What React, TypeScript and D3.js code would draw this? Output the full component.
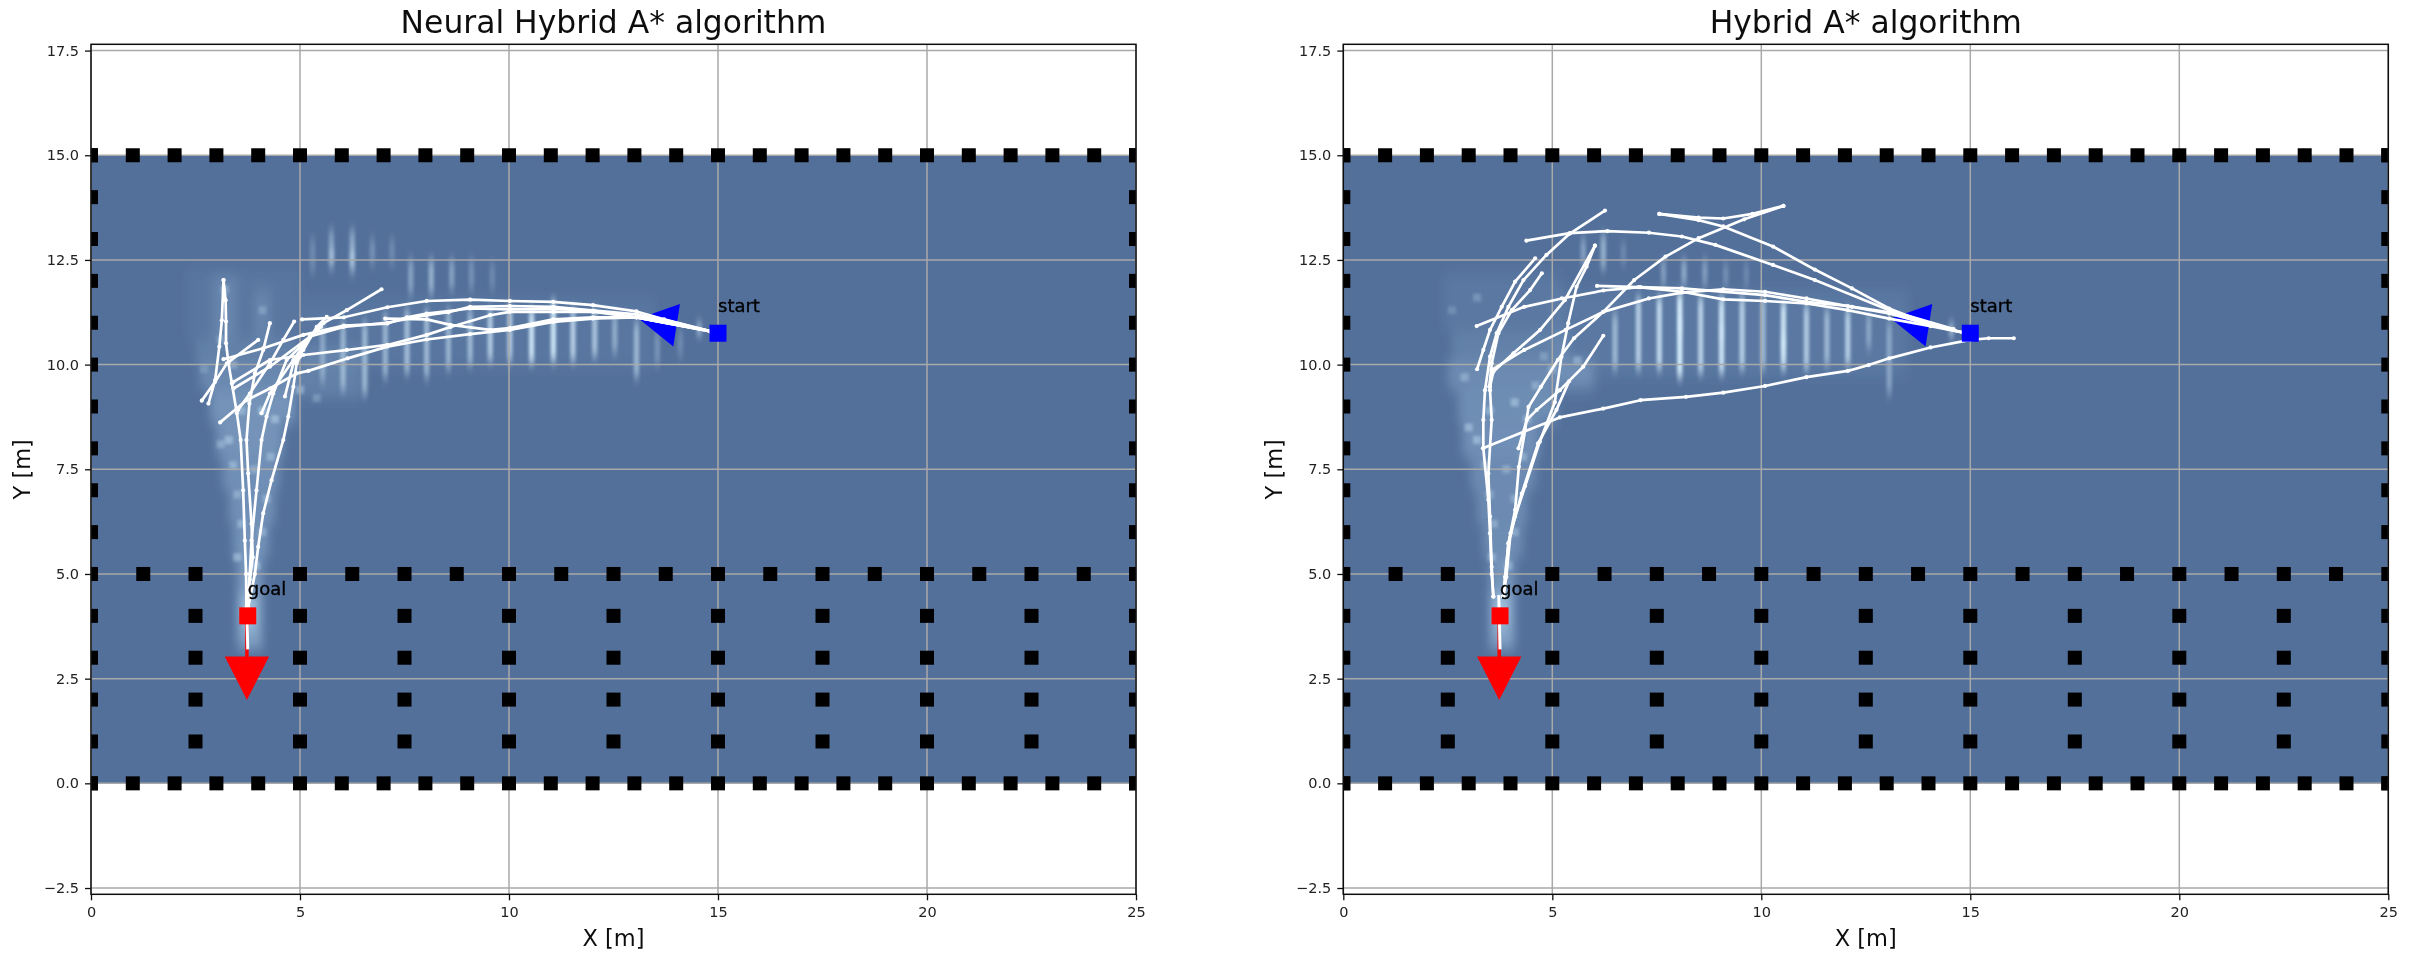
import React, { useEffect, useRef } from "react";
import * as d3 from "d3";

const titles = ["Neural Hybrid A* algorithm", "Hybrid A* algorithm"];
const xTicks = [0, 5, 10, 15, 20, 25];
const yTicks = [-2.5, 0, 2.5, 5, 7.5, 10, 12.5, 15, 17.5];

// obstacles
const borderX = d3.range(0, 26);
const borderY = d3.range(0, 16);
const innerX = [2.5, 5, 7.5, 10, 12.5, 15, 17.5, 20, 22.5];
const innerY = [1, 2, 3, 4];
const midRowX = [1.25, 2.5, 5, 6.25, 7.5, 8.75, 10, 11.25, 12.5, 13.75, 15, 16.25, 17.5, 18.75, 20, 21.25, 22.5, 23.75];

const startPose = { x: 15, y: 10.75, label: "start" };
const goalPose = { x: 3.75, y: 4, label: "goal" };
const startArrow = [[14.09, 11.45], [13.93, 10.43], [13.1, 11.1]];
const goalArrow = [[3.2, 3.03], [4.26, 3.03], [3.73, 1.99]];
const goalStem = [[3.73, 4], [3.73, 3]];
const whiteStem = [[3.72, 4.5], [3.75, 3.2]];

type Blob = number[];
// [x0, x1, y0, y1, strength]
const leftBlobs: Blob[] = [
  [3.5, 4.1, 3.2, 4.6, 0.42], [3.6, 3.95, 3.7, 4.5, 0.5], [3.5, 4.1, 4.6, 5.4, 0.35],
  [3.4, 4.25, 5.4, 6.2, 0.3], [3.3, 4.4, 6.2, 7, 0.28], [3.15, 4.5, 7, 7.8, 0.28],
  [3.0, 4.6, 7.8, 8.6, 0.3], [2.85, 4.9, 8.6, 9.4, 0.3], [2.6, 5.0, 9.4, 10, 0.22],
  [2.5, 4.9, 10, 10.6, 0.15], [2.9, 3.5, 10.6, 12.1, 0.14], [3.9, 4.3, 10.6, 11.8, 0.14],
  [2.3, 5, 10.6, 12.3, 0.06], [5, 6.5, 9.2, 10.4, 0.14], [5, 13.5, 9.9, 11.6, 0.05],
];
const rightBlobs: Blob[] = [
  [3.5, 4.1, 3.2, 4.6, 0.42], [3.6, 3.95, 3.7, 4.5, 0.5], [3.5, 4.1, 4.6, 5.4, 0.32],
  [3.35, 4.3, 5.4, 6.2, 0.25], [3.2, 4.4, 6.2, 7, 0.24], [3.05, 4.6, 7, 7.8, 0.24],
  [2.85, 4.7, 7.8, 8.6, 0.28], [2.75, 5.1, 8.6, 9.4, 0.26], [2.5, 6, 9.4, 10.1, 0.24],
  [2.6, 5.4, 10.1, 10.8, 0.15], [2.4, 5.2, 10.8, 12.2, 0.07], [5, 13.5, 9.7, 11.8, 0.07],
];

// [x, y, strength]
const leftSpots: Blob[] = [
  [3.3, 8.2, 0.4], [3.6, 8.9, 0.35], [4.1, 8.9, 0.45], [4.4, 8.7, 0.4], [3.1, 8.1, 0.3], [3.4, 7.6, 0.35], [3.9, 7.5, 0.3],
  [4.3, 7.8, 0.35], [3.5, 6.9, 0.3], [4.2, 6.8, 0.3], [3.6, 6.2, 0.35], [4.1, 6, 0.3], [3.5, 5.4, 0.4], [3.95, 5.2, 0.4],
  [3.4, 10, 0.3], [3.1, 10.6, 0.25], [3.2, 11.8, 0.3], [4.1, 11.3, 0.25], [5, 9.4, 0.4], [5.4, 9.2, 0.25], [2.7, 9.9, 0.2],
];
const rightSpots: Blob[] = [
  [3, 8.5, 0.4], [3.2, 8.2, 0.4], [3.5, 8.9, 0.35], [4.1, 9.1, 0.4], [4.4, 8.7, 0.35], [3.4, 7.6, 0.3], [3.9, 7.5, 0.3],
  [4.3, 7.8, 0.3], [3.5, 6.9, 0.3], [4.1, 6.8, 0.3], [3.6, 6.2, 0.3], [4.1, 6, 0.3], [3.55, 5.4, 0.35], [3.95, 5.2, 0.35],
  [5, 9.9, 0.3], [5.6, 10.1, 0.35], [4.8, 10.2, 0.25], [3.2, 11.6, 0.25], [2.6, 11.3, 0.2], [2.9, 9.7, 0.3], [4.6, 9.5, 0.3],
];

// [x, y0, y1, strength]
const leftStreaks: Blob[] = [
  [5.3, 12.2, 13, 0.12], [5.75, 12.3, 13.2, 0.22], [6.25, 12.2, 13.2, 0.25], [6.73, 12.4, 13, 0.15], [7.2, 12.4, 13, 0.12],
  [5.76, 12.5, 12.7, 0.35], [6.25, 12.4, 12.7, 0.3],
  [7.65, 11.7, 12.5, 0.22], [8.14, 11.7, 12.5, 0.28], [8.63, 11.8, 12.5, 0.22], [9.1, 11.8, 12.5, 0.15], [9.6, 11.8, 12.4, 0.12],
  [5.54, 9.6, 11, 0.22], [6.03, 9.4, 11, 0.28], [6.55, 9.3, 11, 0.3], [7.04, 9.7, 11.2, 0.28], [7.56, 9.8, 11.3, 0.32],
  [8.03, 9.7, 11.3, 0.3], [8.55, 9.9, 11.3, 0.28], [9.07, 10, 11.3, 0.3], [9.55, 10.1, 11.3, 0.38], [10.02, 10.1, 11.4, 0.38],
  [10.54, 10.05, 11.3, 0.5], [11.06, 10.1, 11.5, 0.5], [11.53, 10.1, 11.3, 0.4], [12.05, 10.2, 11.3, 0.35], [12.53, 10.3, 11.2, 0.25],
  [13.05, 9.7, 11, 0.3], [13.55, 10, 10.8, 0.15], [14.1, 10.2, 10.8, 0.12], [14.55, 10.75, 10.95, 0.45],
];
const rightStreaks: Blob[] = [
  [5.74, 12.4, 13, 0.22], [6.22, 12.3, 13.1, 0.28], [6.7, 12.4, 12.9, 0.12],
  [7.66, 11.9, 12.5, 0.2], [8.15, 11.9, 12.5, 0.25], [8.65, 11.9, 12.5, 0.2], [9.15, 11.9, 12.4, 0.15], [9.64, 11.9, 12.4, 0.12],
  [6.5, 9.9, 11.2, 0.3], [7.06, 9.9, 11.6, 0.4], [7.56, 9.9, 11.6, 0.45], [8.05, 9.7, 11.7, 0.55], [8.55, 9.8, 11.6, 0.42],
  [9.05, 9.8, 11.6, 0.5], [9.54, 9.9, 11.6, 0.4], [10.04, 9.9, 11.6, 0.3], [10.53, 9.9, 11.5, 0.5], [11.08, 9.9, 11.4, 0.38],
  [11.57, 10, 11.3, 0.3], [12.07, 10, 11.3, 0.4], [12.57, 10.4, 11.2, 0.22], [13.06, 9.3, 11, 0.22], [14.55, 10.7, 10.95, 0.4],
  [8.05, 10.7, 11.1, 0.4], [9.05, 10.6, 10.9, 0.35], [10.53, 10.3, 10.7, 0.4],
];

const leftPaths: number[][][] = [
  [[14.8, 10.8], [13.71, 11.08], [13.05, 11.27], [12.01, 11.42], [11.06, 11.5], [10.02, 11.52], [9.07, 11.55], [8.03, 11.52], [7.09, 11.37], [6.05, 11.13], [5.05, 11.08]],
  [[14.8, 10.8], [13.71, 11.07], [13.05, 11.13], [12.01, 11.29], [11.06, 11.33], [10.02, 11.32], [9.07, 11.34], [8.03, 11.22], [7.56, 11.13], [7.09, 10.98], [6.05, 10.93], [5.08, 10.71], [4.12, 10.39], [3.17, 10.13]],
  [[14.8, 10.8], [13.05, 11.13], [12.01, 11.13], [11.06, 11.08], [10.02, 10.87], [9.55, 10.83], [8.6, 10.95], [8.03, 11.08], [7.04, 11.1]],
  [[14.8, 10.8], [13.05, 11.13], [12.01, 11.26], [11.06, 11.26], [10.02, 11.26], [9.55, 11.18], [8.6, 10.9], [8.03, 10.71], [7.09, 10.47], [6.12, 10.35], [5.08, 10.23], [4.28, 10.11], [3.41, 9.59]],
  [[14.8, 10.8], [13.05, 11.13], [12.01, 11.1], [11.06, 11.02], [10.02, 10.83], [9.07, 10.73], [8.03, 10.6], [7.09, 10.43], [6.14, 10.15], [5.2, 9.85], [4.92, 9.79], [4.28, 9.43], [3.72, 9.15], [3.09, 8.62]],
  [[14.8, 10.8], [13.05, 11.2], [11.06, 11.38], [10.02, 11.4], [9.07, 11.38], [8.55, 11.25], [8.03, 11.18], [7.09, 11], [6.04, 10.9], [5.24, 10.67], [4.28, 9.95], [3.41, 9.43]],
  [[3.17, 12.02], [3.22, 11.54], [3.23, 11.03], [3.23, 10.51], [3.29, 10.03], [3.37, 9.55], [3.49, 8.84], [3.58, 8.2], [3.64, 7], [3.68, 5.8], [3.71, 5], [3.72, 4.2]],
  [[3.17, 12.02], [3.13, 11.06], [3.07, 10.43], [2.97, 9.63], [2.81, 9.07]],
  [[2.65, 9.14], [2.97, 9.59], [3.25, 10.03], [4, 10.59]],
  [[4.28, 10.99], [4.12, 10.35], [3.92, 9.79], [3.79, 9.07], [3.72, 8.2], [3.76, 7.4], [3.84, 6.2], [3.87, 5.4], [3.8, 4.86], [3.74, 4.2]],
  [[4.86, 11.03], [4.6, 10.59], [4.28, 10.03], [3.8, 9.31], [3.52, 8.92]],
  [[6.95, 11.8], [6.12, 11.3], [5.56, 10.99], [5.24, 10.67], [4.84, 10.11], [4.28, 9.31], [4.08, 8.84]],
  [[5.64, 11.14], [5.4, 10.9], [5.08, 10.35], [4.84, 10.03], [4.64, 9.24]],
  [[5, 10.19], [4.92, 10.03], [4.84, 9.47], [4.72, 8.76], [4.6, 8.2], [4.32, 7.24], [4.12, 6.45], [4, 5.65], [3.92, 5], [3.76, 4.2]],
  [[5.5, 10.9], [4.68, 10.11], [4.36, 9.31], [4.2, 8.76], [4.08, 8.2], [3.96, 7], [3.84, 5.8], [3.8, 5], [3.74, 4.38]],
];

const rightPaths: number[][][] = [
  [[16.04, 10.63], [15.44, 10.63], [15, 10.59], [14.05, 10.41], [13.06, 10.15], [12.57, 9.99], [12.07, 9.85], [11.08, 9.7], [10.09, 9.49], [9.09, 9.33], [8.2, 9.23], [7.11, 9.15], [6.22, 8.95], [5.18, 8.74], [4.33, 8.4], [3.34, 8]],
  [[14.9, 10.75], [14.05, 10.95], [13.06, 11.22], [12.17, 11.38], [11.08, 11.58], [10.09, 11.74], [9.09, 11.8], [8.1, 11.72], [7.31, 11.58], [6.22, 11.26], [5.32, 10.83], [4.33, 10.35], [3.54, 9.87], [3.49, 9.47]],
  [[14.9, 10.75], [14.05, 10.92], [13.06, 11.1], [12.07, 11.3], [11.08, 11.46], [10.09, 11.52], [9.09, 11.56], [8.1, 11.74], [7.06, 11.85], [6.07, 11.88]],
  [[3.19, 10.92], [4.33, 11.38], [5.23, 11.58], [6.22, 11.77], [7.11, 11.85], [8.1, 11.82], [10.09, 11.66], [11.08, 11.5], [12.07, 11.4], [13.06, 11.25], [14.05, 10.95], [14.9, 10.75]],
  [[14.9, 10.75], [14.05, 10.95], [13.06, 11.34], [12.17, 11.82], [11.28, 12.27], [10.28, 12.82], [9.09, 13.3], [8.5, 13.45], [7.56, 13.6]],
  [[14.6, 10.85], [13.06, 11.3], [11.28, 12.02], [10.28, 12.38], [8.9, 12.86], [8.1, 13.06], [7.31, 13.15], [6.32, 13.19], [5.42, 13.14], [4.38, 12.96]],
  [[10.53, 13.79], [9.59, 13.47], [8.5, 13.02], [7.71, 12.58], [6.96, 12.02], [6.22, 11.26], [5.52, 10.63], [5.13, 10.11], [4.73, 9.47], [4.43, 8.99], [4.35, 8.44], [4.2, 7.56], [4.11, 6.53], [3.95, 5.73], [3.83, 4.46]],
  [[7.56, 13.6], [8.5, 13.51], [9.09, 13.49], [9.79, 13.6], [10.53, 13.79]],
  [[6.26, 13.68], [5.42, 13.13], [4.86, 12.62], [4.31, 12.02], [3.95, 11.38], [3.67, 10.75], [3.51, 10.19], [3.39, 9.39], [3.35, 8.68], [3.35, 8], [3.47, 6.77], [3.51, 5.97], [3.55, 5], [3.59, 4.46]],
  [[4.59, 12.54], [4.11, 11.98], [3.79, 11.38], [3.51, 10.83], [3.35, 10.35], [3.2, 9.89]],
  [[4.75, 12.18], [4.47, 11.78], [4.03, 11.3], [3.71, 10.75], [3.55, 10.03], [3.51, 9.39], [3.55, 8.68], [3.47, 7.4], [3.51, 6.37], [3.55, 5.17], [3.59, 4.46]],
  [[6.02, 12.84], [5.82, 12.34], [5.58, 11.86], [5.38, 10.99], [5.22, 10.19], [5.06, 9.1], [4.7, 8.16], [4.35, 7.1], [4.11, 6.37], [3.95, 5.73], [3.87, 4.93], [3.83, 4.46]],
  [[6.02, 12.84], [5.3, 11.54], [4.71, 10.83], [4.07, 10.27], [3.59, 9.83], [3.51, 9.47]],
  [[6.22, 10.69], [5.74, 9.95], [5.18, 9.39], [4.63, 8.92], [4.39, 8.68], [4.19, 8]],
  [[5.4, 9.6], [5.1, 8.92], [4.66, 8.12], [4.27, 6.92], [4, 5.97], [3.9, 4.93], [3.83, 4.46]],
];

const WIDTH = 2409;
const HEIGHT = 961;
const plotTop = 44.3;
const plotBottom = 894.3;
const plotWidth = 1045;
const FONT = "DejaVu Sans";

function Axes({ x, y, id }: { x: d3.ScaleLinear<number, number>; y: d3.ScaleLinear<number, number>; id: string }) {
  const bottom = useRef<SVGGElement>(null);
  const left = useRef<SVGGElement>(null);
  useEffect(() => {
    d3.select(bottom.current!)
      .call(d3.axisBottom(x).tickValues(xTicks).tickFormat(d3.format("d") as any).tickSizeOuter(0).tickSize(6).tickPadding(6))
      .call((g) => g.select(".domain").remove())
      .selectAll("text")
      .attr("font-size", 14.5)
      .attr("font-family", FONT)
      .attr("fill", "#222");
    d3.select(left.current!)
      .call(d3.axisLeft(y).tickValues(yTicks).tickFormat(d3.format(".1f") as any).tickSizeOuter(0).tickSize(6).tickPadding(6))
      .call((g) => g.select(".domain").remove())
      .selectAll("text")
      .attr("font-size", 14.5)
      .attr("font-family", FONT)
      .attr("fill", "#222");
    d3.select(bottom.current!).selectAll("line").attr("stroke", "#111").attr("stroke-width", 1.3);
    d3.select(left.current!).selectAll("line").attr("stroke", "#111").attr("stroke-width", 1.3);
  }, [x, y, id]);
  return (
    <g>
      <g ref={bottom} transform={`translate(0,${plotBottom})`} />
      <g ref={left} transform={`translate(${x.range()[0]},0)`} />
    </g>
  );
}

function Panel({ left, title, blobs, streaks, spots, paths, id }: {
  left: number; title: string; blobs: Blob[]; streaks: Blob[]; spots: Blob[]; paths: number[][][]; id: string;
}) {
  const x = d3.scaleLinear().domain([0, 25]).range([left, left + plotWidth]);
  const y = d3.scaleLinear().domain([-2.65, 17.65]).range([plotBottom, plotTop]);
  const line = d3.line<number[]>().x((d) => x(d[0])).y((d) => y(d[1]));
  const streakW = 0.13;

  const obstacles: number[][] = [
    ...borderX.map((v) => [v, 0]),
    ...borderX.map((v) => [v, 15]),
    ...borderY.map((v) => [0, v]),
    ...borderY.map((v) => [25, v]),
    ...midRowX.map((v) => [v, 5]),
    ...innerX.flatMap((v) => innerY.map((w) => [v, w])),
  ];

  return (
    <g>
      <defs>
        <clipPath id={`clip-${id}`}>
          <rect x={left} y={plotTop} width={plotWidth} height={plotBottom - plotTop} />
        </clipPath>
        <clipPath id={`heat-${id}`}>
          <rect x={x(0)} y={y(15)} width={plotWidth} height={y(0) - y(15)} />
        </clipPath>
        <filter id={`blur-${id}`} x="-5%" y="-5%" width="110%" height="110%">
          <feGaussianBlur stdDeviation="5 7" />
        </filter>
        <filter id={`streak-${id}`} x="-30%" y="-30%" width="160%" height="160%">
          <feGaussianBlur stdDeviation="1.6 6" />
        </filter>
        <filter id={`spot-${id}`} x="-30%" y="-30%" width="160%" height="160%">
          <feGaussianBlur stdDeviation="1.5" />
        </filter>
      </defs>

      <rect x={x(0)} y={y(15)} width={plotWidth} height={y(0) - y(15)} fill="#53709b" />
      <g clipPath={`url(#heat-${id})`}>
        <g filter={`url(#blur-${id})`}>
          {blobs.map((b, i) => (
            <rect key={i} x={x(b[0])} width={x(b[1]) - x(b[0])} y={y(b[3])} height={y(b[2]) - y(b[3])} fill="#bfe3fb" opacity={b[4]} />
          ))}
        </g>
        <g filter={`url(#streak-${id})`}>
          {streaks.map((s, i) => (
            <rect key={i} x={x(s[0] - streakW / 2)} width={x(streakW) - x(0)} y={y(s[2])} height={y(s[1]) - y(s[2])} fill="#d8f0ff" opacity={Math.min(1, s[3] * 1.7)} />
          ))}
        </g>
        <g filter={`url(#spot-${id})`}>
          {spots.map((s, i) => (
            <rect key={i} x={x(s[0]) - 4} y={y(s[1]) - 4} width={8} height={8} fill="#cfeafd" opacity={s[2]} />
          ))}
        </g>
      </g>

      <g stroke="#a9a9a9" strokeWidth={1.5}>
        {xTicks.map((t) => <line key={t} x1={x(t)} x2={x(t)} y1={plotTop} y2={plotBottom} />)}
        {yTicks.map((t) => <line key={t} x1={left} x2={left + plotWidth} y1={y(t)} y2={y(t)} />)}
      </g>

      <g clipPath={`url(#clip-${id})`}>
        {obstacles.map((o, i) => (
          <rect key={i} x={x(o[0]) - 7} y={y(o[1]) - 7} width={14} height={14} fill="#000" />
        ))}
        <path d={(line(startArrow) ?? "") + "Z"} fill="#00f" />
        <path d={line(goalStem) ?? ""} stroke="#f00" strokeWidth={3.5} fill="none" />
        <path d={line(whiteStem) ?? ""} stroke="#fff" strokeWidth={3} fill="none" />
        {paths.map((p, i) => (
          <g key={i}>
            <path d={line(p) ?? ""} stroke="#fff" strokeWidth={2.7} fill="none" strokeLinejoin="round" />
            {p.map((d, j) => <circle key={j} cx={x(d[0])} cy={y(d[1])} r={2.1} fill="#fff" />)}
          </g>
        ))}
        <path d={(line(goalArrow) ?? "") + "Z"} fill="#f00" />
        <rect x={x(startPose.x) - 8.5} y={y(startPose.y) - 8.5} width={17} height={17} fill="#00f" />
        <rect x={x(goalPose.x) - 8.5} y={y(goalPose.y) - 8.5} width={17} height={17} fill="#f00" />
      </g>

      <text x={x(startPose.x)} y={y(11.25)} fontFamily={FONT} fontSize={18} fill="#000" stroke="#000" strokeWidth={0.35}>{startPose.label}</text>
      <text x={x(goalPose.x)} y={y(4.5)} fontFamily={FONT} fontSize={18} fill="#000" stroke="#000" strokeWidth={0.35}>{goalPose.label}</text>

      <rect x={left} y={plotTop} width={plotWidth} height={plotBottom - plotTop} fill="none" stroke="#111" strokeWidth={1.5} />
      <Axes x={x} y={y} id={id} />

      <text x={left + plotWidth / 2} y={33} textAnchor="middle" fontFamily={FONT} fontSize={31.4} fill="#111">{title}</text>
      <text x={left + plotWidth / 2} y={945.5} textAnchor="middle" fontFamily={FONT} fontSize={22.5} fill="#111">X [m]</text>
      <text transform={`translate(${left - 61},${(plotTop + plotBottom) / 2}) rotate(-90)`} textAnchor="middle" fontFamily={FONT} fontSize={22.5} fill="#111">Y [m]</text>
    </g>
  );
}

export default function App() {
  return (
    <svg width={WIDTH} height={HEIGHT} style={{ position: "absolute", left: 0, top: 0, background: "#fff" }}>
      <defs>
        <filter id="soft" x="0" y="0" width="100%" height="100%">
          <feGaussianBlur stdDeviation="0.45" />
        </filter>
      </defs>
      <g filter="url(#soft)">
        <rect width={WIDTH} height={HEIGHT} fill="#fff" />
        <Panel id="a" left={91} title={titles[0]} blobs={leftBlobs} streaks={leftStreaks} spots={leftSpots} paths={leftPaths} />
        <Panel id="b" left={1343.3} title={titles[1]} blobs={rightBlobs} streaks={rightStreaks} spots={rightSpots} paths={rightPaths} />
      </g>
    </svg>
  );
}
